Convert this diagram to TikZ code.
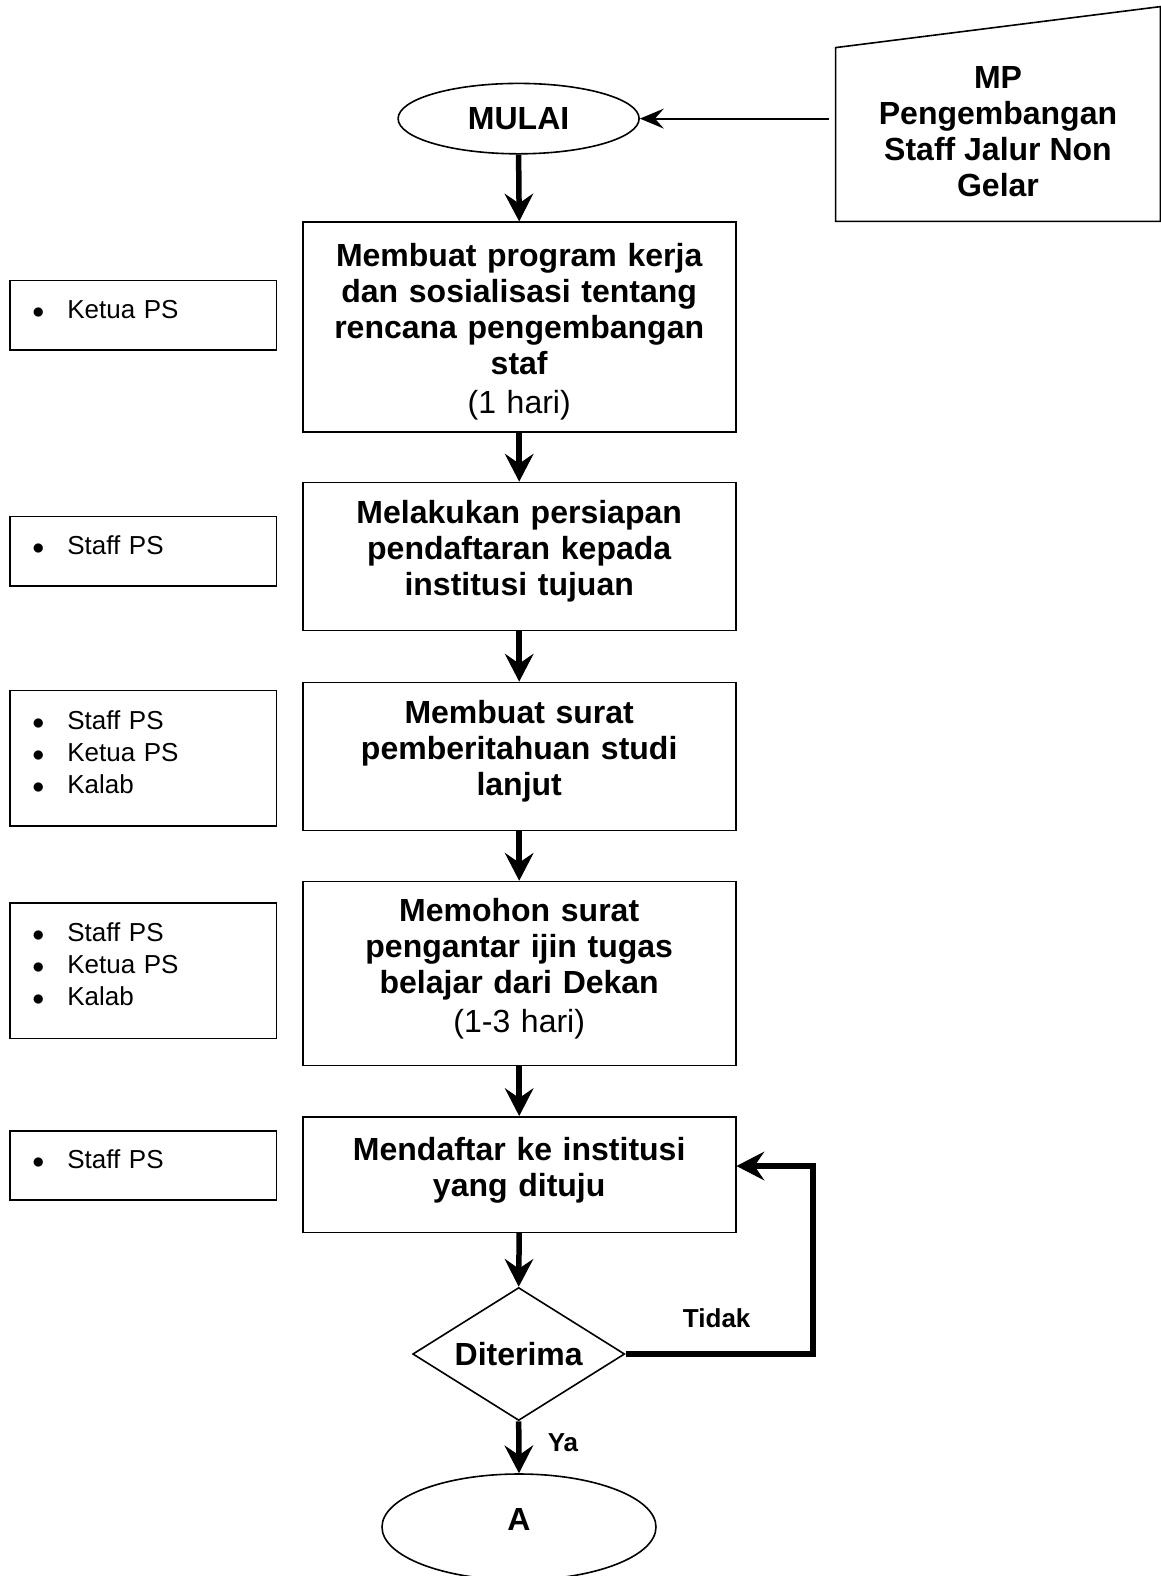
\documentclass[tikz,border=0pt]{standalone}
\usepackage{fontspec}
\setmainfont{Liberation Sans}
\usetikzlibrary{shapes.geometric,arrows.meta}

\newcommand{\butir}{\makebox[17.5pt][l]{$\bullet$}}

\begin{document}
\begin{tikzpicture}[
  x=0.5pt, y=-0.5pt,
  every node/.style={inner sep=0pt, text=black}
]
\tikzstyle{kotak}=[rectangle, draw, line width=0.8pt, minimum width=216.5pt, text width=205pt, align=center,
  font=\bfseries\fontsize{16}{18}\selectfont]
\tikzstyle{geser}=[execute at end node={\rule[-8.2pt]{0pt}{0pt}}]
\tikzstyle{samping}=[rectangle, draw, line width=0.8pt, minimum width=133.3pt, text width=111pt, inner xsep=11pt, align=left,
  font=\fontsize{13}{16}\selectfont, execute at end node={\rule[-6pt]{0pt}{0pt}}]
\tikzstyle{oval}=[ellipse, draw, line width=0.8pt, font=\bfseries\fontsize{16}{18}\selectfont]
\tikzstyle{putusan}=[diamond, draw, line width=0.8pt, aspect=1.6, font=\bfseries\fontsize{16}{18}\selectfont]
\tikzstyle{ket}=[font=\bfseries\fontsize{13}{15}\selectfont]
\tikzstyle{panah}=[-{Stealth[length=14pt, width=14.5pt, inset=5pt, line width=0.5pt]}, line width=2.75pt]
\tikzstyle{panahtipis}=[-{Stealth[length=12pt, width=10pt, inset=4.5pt, line width=0.5pt]}, line width=0.9pt]

\useasboundingbox (0,0) rectangle (1161,1576);

% mulai dan masukan manual
\node[oval, minimum width=120.5pt, minimum height=35.2pt] (mulai) at (518.6,118.6) {MULAI};
\node[minimum width=162pt, minimum height=86.5pt, align=center, font=\bfseries\fontsize{16}{18}\selectfont,
  execute at end node={\rule[-3.5pt]{0pt}{0pt}}] (mp) at (998,134.5)
  {MP\\Pengembangan\\Staff Jalur Non\\Gelar};
\draw[line width=0.8pt] (mp.north west) -- ([yshift=20.5pt]mp.north east) -- (mp.south east) -- (mp.south west) -- cycle;
\coordinate (mpkiri) at (829,118.6);
\draw[panahtipis] (mpkiri) -- (mulai.east);

% langkah
\node[kotak, minimum height=105pt] (b1) at (519.2,327.2)
  {\rule{0pt}{15.7pt}Membuat program kerja\\dan sosialisasi tentang\\rencana pengembangan\\staf\\[1.5pt]\mdseries (1 hari)};
\node[kotak, geser, minimum height=74pt] (b2) at (519.2,556.4)
  {Melakukan persiapan\\pendaftaran kepada\\institusi tujuan};
\node[kotak, geser, minimum height=74pt] (b3) at (519.2,756.4)
  {Membuat surat\\pemberitahuan studi\\lanjut};
\node[kotak, geser, minimum height=92pt] (b4) at (519.2,973.5)
  {Memohon surat\\pengantar ijin tugas\\belajar dari Dekan\\[1.5pt]\mdseries (1-3 hari)};
\node[kotak, geser, minimum height=57.8pt] (b5) at (519.2,1174.6)
  {Mendaftar ke institusi\\yang dituju};
\node[putusan, minimum width=106pt, minimum height=66.5pt] (dit) at (518.7,1354) {Diterima};
\node[oval, minimum width=137pt, minimum height=53pt, execute at end node={\rule[-8pt]{0pt}{0pt}}] (a) at (519,1527) {A};

% pelaksana
\node[samping, minimum height=34.7pt] (s1) at (143.3,315.1) {\butir Ketua PS};
\node[samping, minimum height=34.7pt] (s2) at (143.3,551.3) {\butir Staff PS};
\node[samping, minimum height=67.8pt] (s3) at (143.3,758.4)
  {\butir Staff PS\\\butir Ketua PS\\\butir Kalab};
\node[samping, minimum height=67.8pt] (s4) at (143.3,970.5)
  {\butir Staff PS\\\butir Ketua PS\\\butir Kalab};
\node[samping, minimum height=34.7pt] (s5) at (143.3,1165.5) {\butir Staff PS};

% alur
\draw[panah] (mulai.south) -- (b1.north);
\draw[panah] (b1.south) -- (b2.north);
\draw[panah] (b2.south) -- (b3.north);
\draw[panah] (b3.south) -- (b4.north);
\draw[panah] (b4.south) -- (b5.north);
\draw[panah] (b5.south) -- (dit.north);
\draw[panah] (dit.south) -- (a.north);
\node[ket] (ya) at (563,1443) {Ya};
\coordinate (balik) at (813,1166);
\draw[panah] (dit.east) -| (balik) -- (balik -| b5.east);
\node[ket] (tidak) at (716.7,1318) {Tidak};
\end{tikzpicture}
\end{document}
